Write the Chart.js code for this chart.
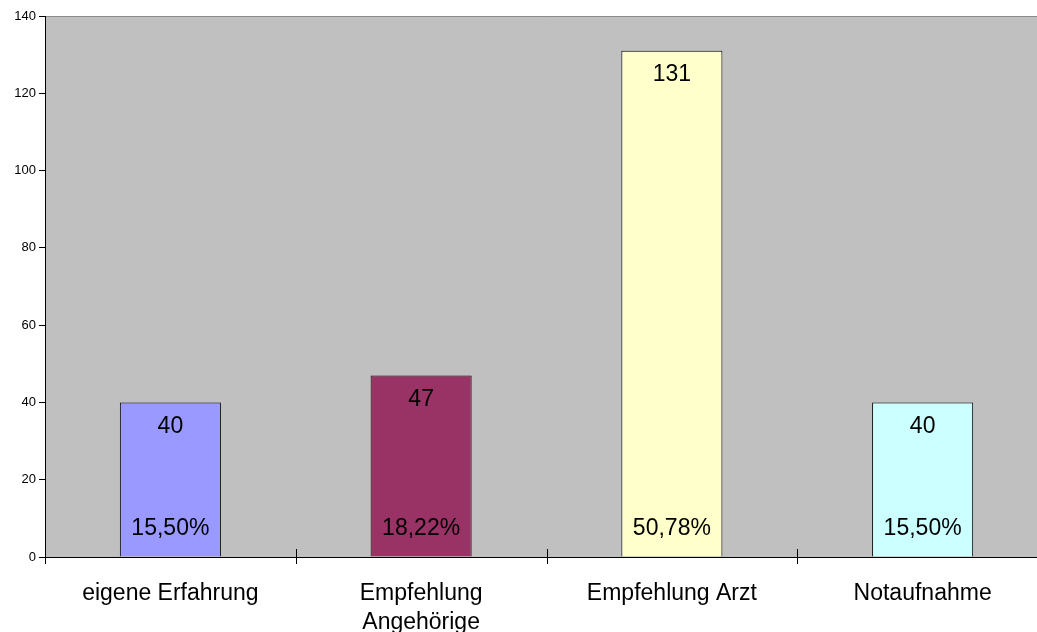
<!DOCTYPE html>
<html>
<head>
<meta charset="utf-8">
<script src="https://cdn.jsdelivr.net/npm/chart.js@4"></script>
<style>
  html, body { margin: 0; padding: 0; background: #fff; overflow: hidden; }
  #wrap { width: 1060px; height: 632px; position: relative; }
</style>
</head>
<body>
<div id="wrap"><canvas id="sourceChart"></canvas></div>
<script>
const categories = [
  'eigene Erfahrung',
  ['Empfehlung', 'Angehörige'],
  'Empfehlung Arzt',
  'Notaufnahme'
];
const counts = [40, 47, 131, 40];
const percentLabels = ['15,50%', '18,22%', '50,78%', '15,50%'];
const barColors = ['#9999FF', '#993366', '#FFFFCC', '#CCFFFF'];
const yTicks = [0, 20, 40, 60, 80, 100, 120, 140];

const font = 'Liberation Sans, Arial, sans-serif';

// grey plot area with darker top line
const plotBackground = {
  id: 'plotBackground',
  beforeDraw(chart) {
    const { ctx, chartArea: a } = chart;
    ctx.save();
    ctx.fillStyle = '#C0C0C0';
    ctx.fillRect(a.left, a.top, a.right - a.left, a.bottom - a.top);
    ctx.strokeStyle = '#8A8A8A';
    ctx.lineWidth = 1;
    ctx.beginPath();
    ctx.moveTo(a.left, Math.round(a.top) + 0.5);
    ctx.lineTo(a.right, Math.round(a.top) + 0.5);
    ctx.stroke();
    ctx.restore();
  }
};

// count at top of each bar, share at the bottom; category ticks crossing the axis
const barLabels = {
  id: 'barLabels',
  afterDatasetsDraw(chart) {
    const { ctx } = chart;
    const meta = chart.getDatasetMeta(0);
    ctx.save();
    ctx.fillStyle = '#000';
    ctx.font = '23px ' + font;
    ctx.textAlign = 'center';
    ctx.textBaseline = 'middle';
    meta.data.forEach((bar, i) => {
      ctx.fillText(String(counts[i]), bar.x, bar.y + 24);
      ctx.fillText(percentLabels[i], bar.x, bar.base - 28);
    });
    const x = chart.scales.x;
    const step = (x.right - x.left) / categories.length;
    ctx.strokeStyle = '#000';
    ctx.lineWidth = 1;
    ctx.beginPath();
    for (let i = 0; i <= categories.length; i++) {
      const px = Math.round(x.left + i * step) + 0.5;
      ctx.moveTo(px, x.top - 8);
      ctx.lineTo(px, x.top + 7);
    }
    ctx.stroke();
    ctx.restore();
  }
};

new Chart(document.getElementById('sourceChart'), {
  type: 'bar',
  data: {
    labels: categories,
    datasets: [{
      data: counts,
      backgroundColor: barColors,
      borderColor: '#000',
      borderWidth: 1,
      barPercentage: 0.403,
      categoryPercentage: 1
    }]
  },
  options: {
    responsive: true,
    maintainAspectRatio: false,
    animation: false,
    layout: { padding: { top: 16, right: 12, left: 0, bottom: 0 } },
    plugins: {
      legend: { display: false },
      tooltip: { enabled: false }
    },
    scales: {
      x: {
        afterFit(scale) { scale.height = 75; },
        grid: { display: false },
        border: { display: true, color: '#000', width: 1 },
        ticks: {
          color: '#000',
          font: { family: font, size: 23, lineHeight: 1.26 },
          padding: 14,
          maxRotation: 0,
          autoSkip: false
        }
      },
      y: {
        min: 0,
        max: 140,
        afterFit(scale) { scale.width = 45; },
        afterBuildTicks(scale) { scale.ticks = yTicks.map(v => ({ value: v })); },
        grid: { drawOnChartArea: false, drawTicks: true, tickLength: 6, color: '#000' },
        border: { display: true, color: '#000', width: 1 },
        ticks: {
          color: '#000',
          font: { family: font, size: 13 },
          padding: 3
        }
      }
    }
  },
  plugins: [plotBackground, barLabels]
});
</script>
</body>
</html>
